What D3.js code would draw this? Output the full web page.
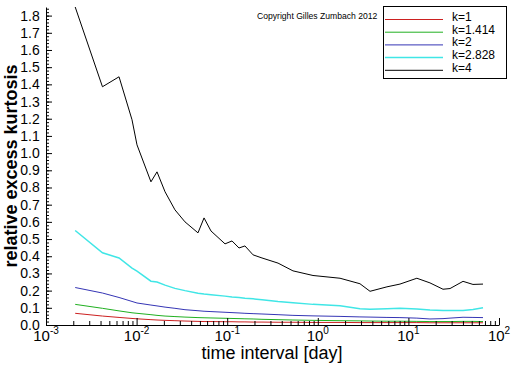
<!DOCTYPE html>
<html>
<head>
<meta charset="utf-8">
<script src="https://cdn.jsdelivr.net/npm/d3@7"></script>
<style>
body { margin: 0; background: #fff; }
svg { display: block; font-family: "Liberation Sans", Arial, sans-serif; }
</style>
</head>
<body>
<script>
var w = 512, h = 366;

// time interval in days
var timeDays = [0.0021, 0.0042, 0.0064, 0.0089, 0.0101, 0.0144, 0.0168, 0.0206, 0.0265, 0.0342,
  0.0476, 0.0555, 0.0662, 0.0946, 0.113, 0.135, 0.157, 0.193, 0.242, 0.364,
  0.532, 0.885, 1.76, 2.92, 3.77, 5.8, 8.07, 12.4, 17.3, 24.1,
  28.8, 40.1, 51.6, 66.6];

var kurtK1 = [0.068, 0.052, 0.044, 0.038, 0.036, 0.031, 0.029, 0.027, 0.025, 0.023,
  0.021, 0.020, 0.020, 0.019, 0.019, 0.018, 0.018, 0.017, 0.017, 0.016,
  0.016, 0.015, 0.015, 0.014, 0.014, 0.014, 0.014, 0.014, 0.013, 0.013,
  0.013, 0.013, 0.013, 0.013];
var kurtK1414 = [0.120, 0.097, 0.082, 0.071, 0.068, 0.060, 0.056, 0.052, 0.049, 0.046,
  0.043, 0.042, 0.041, 0.039, 0.038, 0.037, 0.036, 0.035, 0.033, 0.031,
  0.029, 0.027, 0.025, 0.024, 0.023, 0.022, 0.022, 0.021, 0.020, 0.020,
  0.020, 0.021, 0.021, 0.020];
var kurtK2 = [0.218, 0.186, 0.160, 0.137, 0.128, 0.116, 0.111, 0.104, 0.097, 0.089,
  0.083, 0.080, 0.078, 0.074, 0.072, 0.070, 0.068, 0.066, 0.064, 0.060,
  0.056, 0.053, 0.050, 0.047, 0.046, 0.044, 0.043, 0.040, 0.035, 0.037,
  0.040, 0.045, 0.044, 0.043];
var kurtK2828 = [0.550, 0.420, 0.390, 0.331, 0.313, 0.255, 0.250, 0.232, 0.213, 0.200,
  0.185, 0.180, 0.176, 0.168, 0.163, 0.160, 0.156, 0.152, 0.147, 0.137,
  0.130, 0.120, 0.112, 0.095, 0.092, 0.095, 0.097, 0.093, 0.087, 0.085,
  0.084, 0.084, 0.090, 0.100];
var kurtK4 = [1.850, 1.386, 1.444, 1.194, 1.048, 0.833, 0.891, 0.775, 0.670, 0.600,
  0.536, 0.623, 0.547, 0.472, 0.489, 0.448, 0.460, 0.408, 0.390, 0.360,
  0.315, 0.288, 0.272, 0.240, 0.196, 0.222, 0.238, 0.272, 0.245, 0.208,
  0.212, 0.254, 0.236, 0.238];

var seriesNames = ["k=1", "k=1.414", "k=2", "k=2.828", "k=4"];
var seriesValues = [kurtK1, kurtK1414, kurtK2, kurtK2828, kurtK4];
var seriesColors = ["#cc2020", "#20b020", "#3535b5", "#40e6e6", "#000000"];

var yTickValues = [0.0, 0.1, 0.2, 0.3, 0.4, 0.5, 0.6, 0.7, 0.8, 0.9,
  1.0, 1.1, 1.2, 1.3, 1.4, 1.5, 1.6, 1.7, 1.8];
var xDecades = [-3, -2, -1, 0, 1, 2];

var x = d3.scaleLog().domain([1e-3, 1e2]).range([46, 499]);
var y = d3.scaleLinear().domain([0, 1.85]).range([325, 7]);

var svg = d3.select("body").append("svg")
  .attr("width", w)
  .attr("height", h);

// curves
var line = d3.line()
  .x(function(d) { return x(d[0]); })
  .y(function(d) { return y(d[1]); });

seriesValues.forEach(function(vals, i) {
  svg.append("path")
    .datum(timeDays.map(function(t, j) { return [t, vals[j]]; }))
    .attr("d", line)
    .attr("fill", "none")
    .attr("stroke", seriesColors[i])
    .attr("stroke-width", i == 3 ? 1.5 : 1);
});

// y axis
var yMinor = d3.range(0, 1.851, 0.02);
svg.append("g")
  .attr("transform", "translate(46,0)")
  .call(d3.axisLeft(y).tickValues(yMinor).tickSizeInner(-3).tickSizeOuter(0).tickFormat(""))
  .select(".domain").remove();

var yAxis = svg.append("g")
  .attr("transform", "translate(46,0)")
  .call(d3.axisLeft(y).tickValues(yTickValues).tickSizeInner(-6).tickSizeOuter(0)
    .tickPadding(16).tickFormat(d3.format(".1f")));
yAxis.selectAll("text")
  .attr("text-anchor", "middle")
  .attr("font-family", "Liberation Sans, Arial, sans-serif")
  .attr("font-size", 14)
  .attr("fill", "#000");

// x axis
var xMinor = [];
xDecades.slice(0, -1).forEach(function(e) {
  for (var m = 2; m < 10; m++) xMinor.push(m * Math.pow(10, e));
});
svg.append("g")
  .attr("transform", "translate(0,325)")
  .call(d3.axisBottom(x).tickValues(xMinor).tickSizeInner(-4).tickSizeOuter(0).tickFormat(""))
  .select(".domain").remove();

var xAxis = svg.append("g")
  .attr("transform", "translate(0,325)")
  .call(d3.axisBottom(x).tickValues(xDecades.map(function(e) { return Math.pow(10, e); }))
    .tickSizeInner(-7).tickSizeOuter(0).tickFormat(""));

var xLab = svg.append("g").selectAll("text")
  .data(xDecades)
  .enter().append("text")
  .attr("x", function(e) { return x(Math.pow(10, e)); })
  .attr("y", 341)
  .attr("text-anchor", "middle")
  .attr("fill", "#000");
xLab.append("tspan").attr("font-size", 15).text("10");
xLab.append("tspan").attr("font-size", 10).attr("dy", -7).text(function(e) { return e; });

// axis titles
svg.append("text")
  .attr("x", 272)
  .attr("y", 359)
  .attr("text-anchor", "middle")
  .attr("font-size", 18)
  .text("time interval [day]");

svg.append("text")
  .attr("transform", "translate(17,166) rotate(-90)")
  .attr("text-anchor", "middle")
  .attr("font-size", 18)
  .attr("font-weight", "bold")
  .text("relative excess kurtosis");

// copyright
svg.append("text")
  .attr("x", 257)
  .attr("y", 19)
  .attr("font-size", 8.6)
  .text("Copyright Gilles Zumbach 2012");

// legend
var legend = svg.append("g");
legend.append("rect")
  .attr("x", 383.5).attr("y", 6.5)
  .attr("width", 123).attr("height", 72)
  .attr("fill", "#fff")
  .attr("stroke", "#000");

var item = legend.selectAll("g.item")
  .data(seriesNames)
  .enter().append("g")
  .attr("class", "item")
  .attr("transform", function(d, i) { return "translate(0," + (19.5 + i * 12.7) + ")"; });
item.append("line")
  .attr("x1", 385).attr("x2", 443)
  .attr("stroke", function(d, i) { return seriesColors[i]; })
  .attr("stroke-width", function(d, i) { return i == 3 ? 1.5 : 1; });
item.append("text")
  .attr("x", 452)
  .attr("y", 1.5)
  .attr("font-size", 12)
  .text(function(d) { return d; });
</script>
</body>
</html>
